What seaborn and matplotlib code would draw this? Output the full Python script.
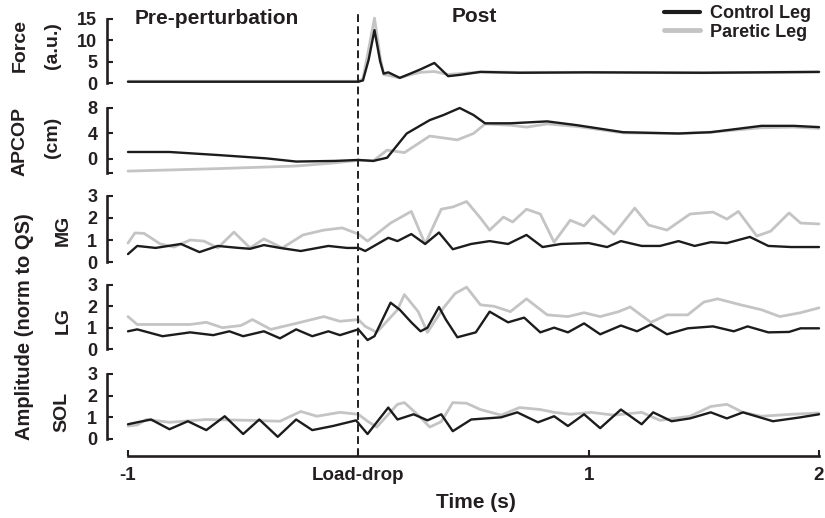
import matplotlib
matplotlib.use("Agg")
import matplotlib.pyplot as plt
import matplotlib.transforms as mtransforms
from matplotlib.lines import Line2D
import seaborn as sns

# ---- data (time in s, 0 = load drop) ----
force_t = [-1.0, 0.0, 0.02, 0.045, 0.07, 0.095, 0.11, 0.13, 0.18, 0.23, 0.27, 0.33, 0.39, 0.44, 0.53, 0.7, 1.0, 1.5, 2.0]
force_ctrl = [0.3, 0.3, 0.6, 5.5, 12.4, 5.0, 2.2, 2.5, 1.2, 2.3, 3.2, 4.7, 1.6, 1.9, 2.6, 2.4, 2.5, 2.4, 2.6]
force_par = [0.4, 0.4, 1.0, 8.0, 15.2, 6.0, 2.0, 1.8, 1.2, 2.0, 2.5, 2.7, 2.0, 2.2, 2.6, 2.5, 2.5, 2.4, 2.6]

cop_t_ctrl = [-1.0, -0.82, -0.6, -0.4, -0.27, -0.1, 0.0, 0.065, 0.125, 0.21, 0.31, 0.37, 0.44, 0.5, 0.55, 0.66, 0.82, 0.95, 1.15, 1.39, 1.53, 1.75, 1.89, 2.0]
cop_ctrl = [1.1, 1.1, 0.6, 0.1, -0.4, -0.3, -0.15, -0.3, 0.2, 4.0, 6.1, 6.9, 8.0, 6.9, 5.6, 5.6, 5.9, 5.3, 4.2, 4.0, 4.2, 5.2, 5.2, 5.0]
cop_t_par = [-1.0, -0.6, -0.27, -0.1, 0.0, 0.065, 0.125, 0.2, 0.31, 0.43, 0.5, 0.55, 0.66, 0.73, 0.82, 0.95, 1.15, 1.39, 1.53, 1.75, 1.89, 2.0]
cop_par = [-1.9, -1.5, -1.1, -0.6, -0.2, -0.3, 1.4, 1.0, 3.6, 3.0, 4.0, 5.5, 5.3, 5.0, 5.5, 5.1, 4.1, 4.0, 4.2, 4.9, 5.0, 4.8]

mg_t_ctrl = [-1.0, -0.96, -0.88, -0.77, -0.69, -0.61, -0.53, -0.47, -0.41, -0.34, -0.25, -0.13, -0.05, 0.0, 0.03, 0.13, 0.17, 0.23, 0.29, 0.35,
             0.41, 0.49, 0.57, 0.65, 0.73, 0.80, 0.88, 1.0, 1.08, 1.14, 1.23, 1.31, 1.39, 1.46, 1.53, 1.6, 1.7, 1.78, 1.88, 2.0]
mg_ctrl = [0.36, 0.73, 0.64, 0.82, 0.45, 0.73, 0.65, 0.6, 0.77, 0.64, 0.5, 0.73, 0.64, 0.64, 0.5, 1.1, 0.95, 1.27, 0.82, 1.34,
           0.58, 0.82, 0.95, 0.82, 1.23, 0.68, 0.82, 0.86, 0.68, 0.95, 0.73, 0.73, 0.95, 0.73, 0.9, 0.86, 1.14, 0.73, 0.68, 0.68]
mg_t_par = [-1.0, -0.97, -0.93, -0.86, -0.80, -0.73, -0.67, -0.61, -0.54, -0.47, -0.41, -0.33, -0.24, -0.15, -0.07, 0.0, 0.04, 0.14, 0.23, 0.29,
            0.36, 0.41, 0.47, 0.53, 0.57, 0.63, 0.67, 0.73, 0.79, 0.85, 0.92, 0.98, 1.02, 1.11, 1.2, 1.26, 1.34, 1.44, 1.54, 1.6,
            1.65, 1.73, 1.79, 1.87, 1.92, 2.0]
mg_par = [0.86, 1.32, 1.3, 0.82, 0.68, 1.0, 0.95, 0.64, 1.36, 0.64, 1.05, 0.64, 1.23, 1.45, 1.55, 1.27, 0.95, 1.77, 2.3, 0.82,
          2.4, 2.5, 2.75, 2.0, 1.45, 2.04, 1.82, 2.4, 2.18, 0.9, 1.9, 1.64, 2.1, 1.27, 2.45, 1.68, 1.45, 2.18, 2.27, 1.95,
          2.3, 1.18, 1.4, 2.23, 1.77, 1.73]

lg_t_ctrl = [-1.0, -0.96, -0.85, -0.73, -0.63, -0.56, -0.5, -0.41, -0.34, -0.27, -0.2, -0.13, -0.08, 0.0, 0.04, 0.07, 0.14, 0.18, 0.23, 0.27,
             0.3, 0.35, 0.38, 0.43, 0.51, 0.57, 0.65, 0.72, 0.79, 0.85, 0.91, 0.98, 1.05, 1.14, 1.21, 1.27, 1.34, 1.43, 1.54, 1.63,
             1.69, 1.78, 1.87, 1.92, 2.0]
lg_ctrl = [0.83, 0.92, 0.6, 0.78, 0.65, 0.83, 0.6, 0.83, 0.5, 0.92, 0.6, 0.83, 0.65, 0.92, 0.42, 0.6, 2.17, 1.84, 1.25, 0.83,
           1.0, 1.97, 1.38, 0.55, 0.78, 1.75, 1.25, 1.47, 0.78, 1.0, 0.78, 1.2, 0.69, 1.1, 0.83, 1.15, 0.69, 0.97, 1.06, 0.83,
           1.06, 0.78, 0.8, 0.97, 0.97]
lg_t_par = [-1.0, -0.96, -0.86, -0.73, -0.66, -0.59, -0.51, -0.46, -0.38, -0.27, -0.15, -0.08, 0.0, 0.03, 0.08, 0.17, 0.2, 0.26, 0.3, 0.37,
            0.42, 0.47, 0.53, 0.59, 0.66, 0.73, 0.82, 0.91, 0.98, 1.05, 1.13, 1.18, 1.27, 1.34, 1.43, 1.5, 1.56, 1.66, 1.75, 1.83,
            1.92, 2.0]
lg_par = [1.52, 1.15, 1.15, 1.15, 1.25, 1.0, 1.1, 1.38, 0.92, 1.2, 1.52, 1.3, 1.38, 1.06, 0.78, 1.84, 2.55, 1.75, 0.78, 1.93,
          2.6, 2.9, 2.07, 2.0, 1.75, 2.35, 1.6, 1.52, 1.7, 1.52, 1.75, 1.97, 1.25, 1.6, 1.6, 2.2, 2.35, 2.07, 1.84, 1.52,
          1.7, 1.93]

sol_t_ctrl = [-1.0, -0.96, -0.9, -0.82, -0.74, -0.66, -0.58, -0.5, -0.43, -0.35, -0.27, -0.2, -0.11, -0.01, 0.04, 0.13, 0.17, 0.24, 0.3, 0.36,
              0.41, 0.49, 0.62, 0.69, 0.78, 0.85, 0.91, 0.98, 1.05, 1.14, 1.23, 1.28, 1.36, 1.44, 1.53, 1.6, 1.67, 1.8, 1.92, 2.0]
sol_ctrl = [0.68, 0.77, 0.9, 0.45, 0.82, 0.41, 1.05, 0.23, 0.9, 0.1, 0.9, 0.41, 0.6, 0.86, 0.23, 1.45, 0.9, 1.14, 0.86, 1.14,
            0.36, 0.9, 1.0, 1.23, 0.77, 1.05, 0.6, 1.14, 0.5, 1.36, 0.68, 1.23, 0.82, 0.95, 1.23, 0.95, 1.23, 0.82, 1.0, 1.14]
sol_t_par = [-1.0, -0.96, -0.92, -0.82, -0.66, -0.47, -0.34, -0.25, -0.18, -0.08, 0.0, 0.04, 0.08, 0.17, 0.2, 0.26, 0.31, 0.36, 0.41, 0.47,
             0.53, 0.62, 0.7, 0.79, 0.85, 0.92, 1.01, 1.11, 1.23, 1.31, 1.44, 1.53, 1.6, 1.67, 1.75, 1.88, 2.0]
sol_par = [0.6, 0.65, 0.9, 0.77, 0.9, 0.86, 0.82, 1.27, 1.05, 1.23, 1.14, 0.82, 0.55, 1.6, 1.68, 1.1, 0.55, 0.8, 1.68, 1.65,
           1.36, 1.1, 1.45, 1.36, 1.23, 1.14, 1.23, 1.1, 1.23, 0.86, 1.05, 1.5, 1.6, 1.23, 1.05, 1.14, 1.2]

xtick_vals = [-1, 0, 1, 2]
xtick_labels = ["-1", "Load-drop", "1", "2"]

CTRL = "#1c1c1c"
PAR = "#c4c4c4"
INK = "#231f20"

sns.set_style("white")
plt.rcParams["font.family"] = ["Liberation Sans", "DejaVu Sans"]
plt.rcParams["font.weight"] = "bold"
plt.rcParams["text.color"] = INK

W, H = 825, 518
fig = plt.figure(figsize=(W / 100, H / 100), dpi=100)


def px_axes(top, bottom):
    # axes box given in pixel rows of the figure
    return fig.add_axes([107 / W, 1 - bottom / H, (821 - 107) / W, (bottom - top) / H])


x_lo = -1 - 21 / 230.33
x_hi = 2 + 2 / 230.33

panels = [
    # top px, bottom px, ylim, yticks, tick labels, spine bounds, series
    (16, 86, (-0.70, 15.70), [0, 5, 10, 15], ["0", "5", "10", "15"], (0, 15),
     (force_t, force_ctrl, force_t, force_par)),
    (105, 175, (-2.51, 8.47), [0, 4, 8], ["0", "4", "8"], (-2.2, 8),
     (cop_t_ctrl, cop_ctrl, cop_t_par, cop_par)),
    (193, 265, (-0.136, 3.136), [0, 1, 2, 3], ["0", "1", "2", "3"], (0, 3),
     (mg_t_ctrl, mg_ctrl, mg_t_par, mg_par)),
    (282, 352, (-0.14, 3.14), [0, 1, 2, 3], ["0", "1", "2", "3"], (0, 3),
     (lg_t_ctrl, lg_ctrl, lg_t_par, lg_par)),
    (371, 456, (-0.785, 3.138), [0, 1, 2, 3], ["0", "1", "2", "3"], (0, 3),
     (sol_t_ctrl, sol_ctrl, sol_t_par, sol_par)),
]

axes = []
for i, (top, bot, ylim, yt, ytl, bounds, series) in enumerate(panels):
    ax = px_axes(top, bot)
    tc, yc, tp, yp = series
    sns.lineplot(x=tp, y=yp, color=PAR, lw=2.0, ax=ax, sort=False)
    sns.lineplot(x=tc, y=yc, color=CTRL, lw=1.7, ax=ax, sort=False)
    ax.set_xlim(x_lo, x_hi)
    ax.set_ylim(*ylim)
    ax.set_facecolor("none")
    ax.set_yticks(yt)
    ax.set_yticklabels(ytl, fontsize=13, fontweight="bold", color=INK)
    if i == 1:
        ax.set_yticks([-2.2], minor=True)
    for s in ["top", "right"]:
        ax.spines[s].set_visible(False)
    ax.spines["left"].set_bounds(*bounds)
    ax.spines["left"].set_linewidth(1.9)
    ax.spines["left"].set_color(INK)
    ax.tick_params(axis="y", which="both", direction="in", length=4, width=1.5,
                   color=INK, pad=7, left=True)
    if i < 4:
        ax.spines["bottom"].set_visible(False)
        ax.set_xticks([])
    else:
        ax.spines["bottom"].set_bounds(-1, 2)
        ax.spines["bottom"].set_linewidth(1.9)
        ax.spines["bottom"].set_color(INK)
        ax.set_xticks(xtick_vals)
        ax.set_xticklabels(xtick_labels, fontsize=13.5, fontweight="bold", color=INK)
        ax.tick_params(axis="x", direction="in", length=4, width=1.5, color=INK, pad=8, bottom=True)
    ax.set_xlabel("")
    ax.set_ylabel("")
    axes.append(ax)

# dashed load-drop line through every panel
trans = mtransforms.blended_transform_factory(axes[-1].transData, fig.transFigure)
axes[-1].plot([0, 0], [1 - 456 / H, 1 - 12 / H], transform=trans, clip_on=False,
              color=INK, lw=1.4, dashes=(4, 2.2))


def ftext(x, y, s, **kw):
    fig.text(x / W, 1 - y / H, s, fontweight="bold", color=INK, **kw)


ftext(20, 45, "Force", fontsize=14, rotation=90, ha="center", va="center")
ftext(52, 46, "(a.u.)", fontsize=14, rotation=90, ha="center", va="center")
ftext(20, 142, "APCOP", fontsize=14, rotation=90, ha="center", va="center")
ftext(52, 137, "(cm)", fontsize=14, rotation=90, ha="center", va="center")
ftext(63, 230, "MG", fontsize=14, rotation=90, ha="center", va="center")
ftext(63, 320, "LG", fontsize=14, rotation=90, ha="center", va="center")
ftext(62, 412, "SOL", fontsize=14, rotation=90, ha="center", va="center")
ftext(25, 327, "Amplitude (norm to QS)", fontsize=14.5, rotation=90, ha="center", va="center")
ftext(476, 503, "Time (s)", fontsize=15, ha="center", va="center")
ftext(135, 18, "Pre-perturbation", fontsize=15, ha="left", va="center")
ftext(452, 17, "Post", fontsize=15, ha="left", va="center")

handles = [Line2D([], [], color=CTRL, lw=3.0), Line2D([], [], color=PAR, lw=3.5)]
fig.legend(handles, ["Control Leg", "Paretic Leg"], loc="upper left",
           bbox_to_anchor=(664 / W, 1 - 5 / H), frameon=False,
           prop={"weight": "bold", "size": 13}, handlelength=2.0,
           handletextpad=0.55, labelspacing=0.1, borderpad=0, borderaxespad=0)

fig.savefig("out.png", dpi=100)
